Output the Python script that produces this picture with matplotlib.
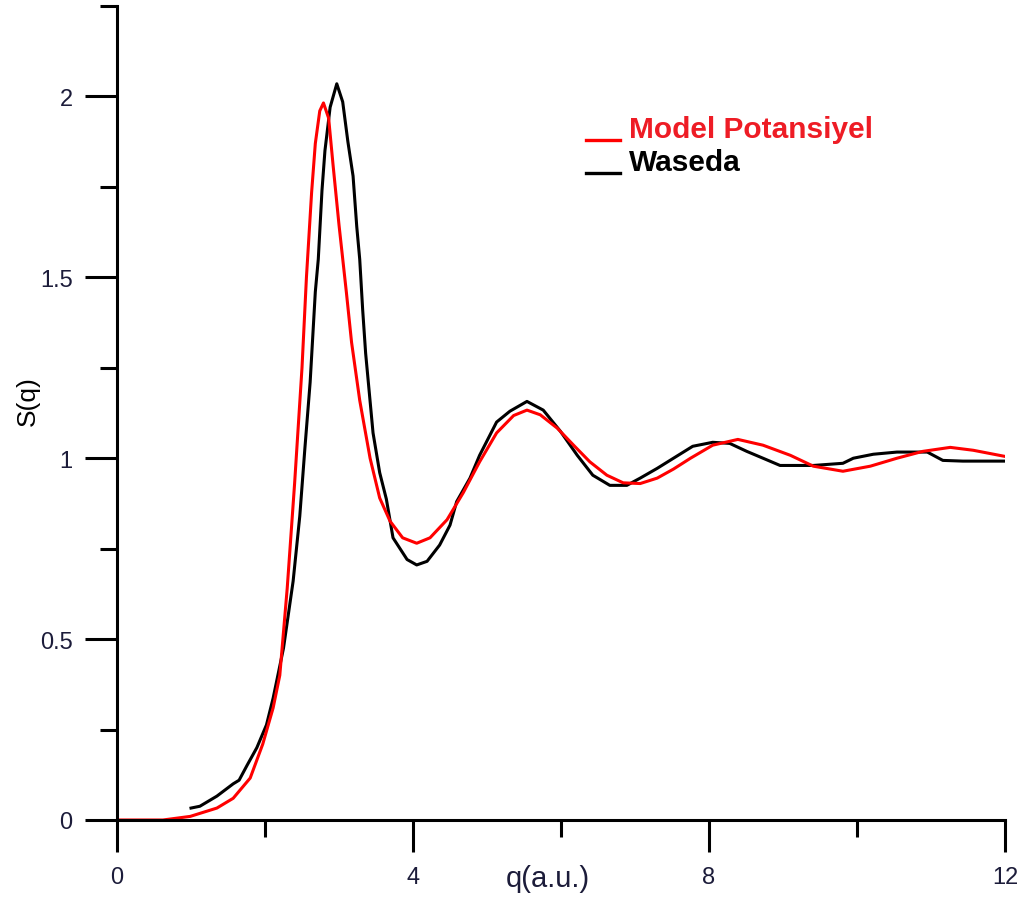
import matplotlib
matplotlib.use("Agg")
import matplotlib.pyplot as plt
from matplotlib.lines import Line2D
from matplotlib.ticker import MultipleLocator

# Structure factor S(q): model potential vs. Waseda experimental data
q_model = [0.0, 0.3, 0.62, 0.99, 1.35, 1.57, 1.8, 1.97, 2.11, 2.2, 2.3, 2.4, 2.5,
           2.56, 2.63, 2.68, 2.74, 2.79, 2.86, 2.92, 3.0, 3.1, 3.17, 3.28, 3.42,
           3.55, 3.69, 3.86, 4.05, 4.23, 4.46, 4.68, 4.9, 5.13, 5.36, 5.54, 5.72,
           5.95, 6.17, 6.39, 6.62, 6.84, 7.07, 7.3, 7.52, 7.75, 8.05, 8.39, 8.73,
           9.1, 9.41, 9.81, 10.18, 10.54, 10.89, 11.26, 11.57, 12.0]
s_model = [0.0, 0.0, 0.0, 0.01, 0.033, 0.06, 0.116, 0.21, 0.31, 0.40, 0.64, 0.93, 1.25,
           1.5, 1.735, 1.87, 1.96, 1.982, 1.94, 1.81, 1.645, 1.458, 1.32, 1.16, 1.0,
           0.89, 0.826, 0.78, 0.765, 0.78, 0.83, 0.905, 0.99, 1.07, 1.118, 1.133, 1.12,
           1.083, 1.036, 0.99, 0.953, 0.932, 0.93, 0.945, 0.97, 1.0, 1.036, 1.052, 1.036,
           1.008, 0.978, 0.964, 0.978, 1.0, 1.019, 1.03, 1.022, 1.005]

q_waseda = [1.0, 1.12, 1.35, 1.57, 1.65, 1.76, 1.89, 2.02, 2.11, 2.25, 2.38, 2.47,
            2.54, 2.61, 2.68, 2.72, 2.77, 2.81, 2.88, 2.97, 3.05, 3.12, 3.19, 3.24,
            3.28, 3.32, 3.36, 3.46, 3.55, 3.64, 3.73, 3.92, 4.05, 4.19, 4.36, 4.5,
            4.59, 4.77, 4.9, 5.13, 5.31, 5.54, 5.76, 5.99, 6.22, 6.43, 6.66, 6.89,
            7.07, 7.3, 7.52, 7.78, 8.05, 8.28, 8.51, 8.73, 8.96, 9.41, 9.81, 9.95,
            10.22, 10.54, 10.95, 11.16, 11.43, 12.0]
s_waseda = [0.033, 0.038, 0.066, 0.1, 0.11, 0.152, 0.2, 0.263, 0.337, 0.475, 0.66, 0.84,
            1.03, 1.21, 1.46, 1.55, 1.74, 1.85, 1.97, 2.035, 1.985, 1.875, 1.78, 1.64,
            1.55, 1.41, 1.29, 1.07, 0.96, 0.887, 0.78, 0.72, 0.705, 0.715, 0.76, 0.815,
            0.88, 0.945, 1.008, 1.1, 1.13, 1.157, 1.133, 1.075, 1.008, 0.953, 0.925, 0.925,
            0.945, 0.972, 1.0, 1.033, 1.044, 1.041, 1.019, 1.0, 0.98, 0.98, 0.986, 1.0,
            1.011, 1.017, 1.017, 0.994, 0.992, 0.992]

x_ticks = [0, 4, 8, 12]
x_tick_labels = ["0", "4", "8", "12"]
y_ticks = [0, 0.5, 1, 1.5, 2]
y_tick_labels = ["0", "0.5", "1", "1.5", "2"]
series_labels = ["Model Potansiyel", "Waseda"]

FONT = ["Liberation Sans", "DejaVu Sans"]
plt.rcParams["font.family"] = FONT
RED = "#ff0000"
TEXT_RED = "#ee1c25"
TICK_COLOR = "#1c1c3a"

W, H = 1030, 904
fig = plt.figure(figsize=(W / 100, H / 100), dpi=100)
ax = fig.add_axes([117 / W, 1 - 821 / H, 888 / W, 814 / H])

ax.plot(q_waseda, s_waseda, color="black", lw=2.2)
ax.plot(q_model, s_model, color=RED, lw=2.2)

ax.set_xlim(0, 12)
ax.set_ylim(0, 2.25)

for side in ("top", "right"):
    ax.spines[side].set_visible(False)
for side in ("left", "bottom"):
    ax.spines[side].set_linewidth(2.2)
    ax.spines[side].set_capstyle("projecting")

ax.set_xticks(x_ticks, x_tick_labels)
ax.set_yticks(y_ticks, y_tick_labels)
ax.xaxis.set_minor_locator(MultipleLocator(2))
ax.yaxis.set_minor_locator(MultipleLocator(0.25))
ax.tick_params(which="major", length=23, width=2.2, color="black",
               labelsize=17, labelcolor=TICK_COLOR)
ax.tick_params(which="minor", length=12, width=2.2, color="black")
ax.tick_params(axis="x", which="major", pad=10)
ax.tick_params(axis="y", which="major", pad=9)

ax.set_xlabel("q(a.u.)", fontsize=21, color=TICK_COLOR, va="center")
ax.xaxis.set_label_coords((548 - 117) / 888, (821 - 879) / 814)
ax.set_ylabel("S(q)", fontsize=19, color="black", va="center")
ax.yaxis.set_label_coords((28 - 117) / 888, (821 - 401) / 814)

# Legend: short underscore-style handles sitting on the text baseline
legend_rows = [(series_labels[0], RED, TEXT_RED, 138), (series_labels[1], "black", "black", 171)]
for label, line_color, text_color, base_px in legend_rows:
    fig.add_artist(Line2D([586 / W, 620 / W], [1 - (base_px + 3) / H] * 2,
                          transform=fig.transFigure, color=line_color, lw=2.4))
    fig.text(629 / W, 1 - base_px / H, label, fontsize=21.5, fontweight="bold",
             color=text_color, ha="left", va="baseline")

fig.savefig("out.png", dpi=100)
